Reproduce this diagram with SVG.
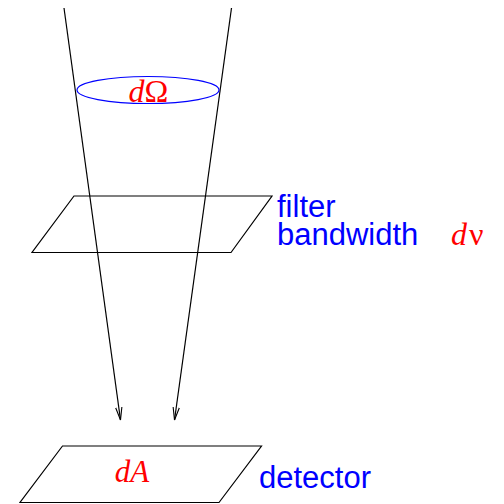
<svg xmlns="http://www.w3.org/2000/svg" width="504" height="504" viewBox="0 0 504 504">
<style>
.edge{stroke:#000;stroke-width:1.2;fill:none}
.plane{stroke:#000;stroke-width:1.2;fill:none}
.lbl{font-family:"Liberation Sans",Arial,sans-serif;font-size:31px;fill:#0000ff}
.math{font-family:"Liberation Serif","Times New Roman",serif;fill:#ff0000}
</style>
<defs>
<marker id="arr" markerWidth="14" markerHeight="8" refX="13" refY="4" orient="auto" markerUnits="userSpaceOnUse">
<path d="M0,0.8 L13,4 L0,7.2" fill="none" stroke="#000" stroke-width="1.1"/>
</marker>
</defs>
<g id="connectors">
<line class="edge" x1="64" y1="8" x2="120.5" y2="420" marker-end="url(#arr)"/>
<line class="edge" x1="231.5" y1="8" x2="174.5" y2="420" marker-end="url(#arr)"/>
</g>
<g id="solid-angle">
<ellipse cx="148" cy="90" rx="71" ry="13.5" fill="none" stroke="#0000ff" stroke-width="1.2"/>
<text class="math" x="148.5" y="101.5" font-size="32" text-anchor="middle"><tspan font-style="italic">d</tspan>Ω</text>
</g>
<g id="filter">
<polygon class="plane" points="74,196 272,196 231,252.5 32,252.5"/>
<text class="lbl" x="277" y="216.5">filter</text>
<text class="lbl" x="277" y="245">bandwidth</text>
<text class="math" x="451" y="245" font-size="32"><tspan font-style="italic">d</tspan><tspan dx="2">ν</tspan></text>
</g>
<g id="detector">
<polygon class="plane" points="62.5,446 261.5,446 219,502.5 20,502.5"/>
<text class="math" x="132" y="481.5" font-size="31" font-style="italic" text-anchor="middle">dA</text>
<text class="lbl" x="259" y="487.5">detector</text>
</g>
</svg>
